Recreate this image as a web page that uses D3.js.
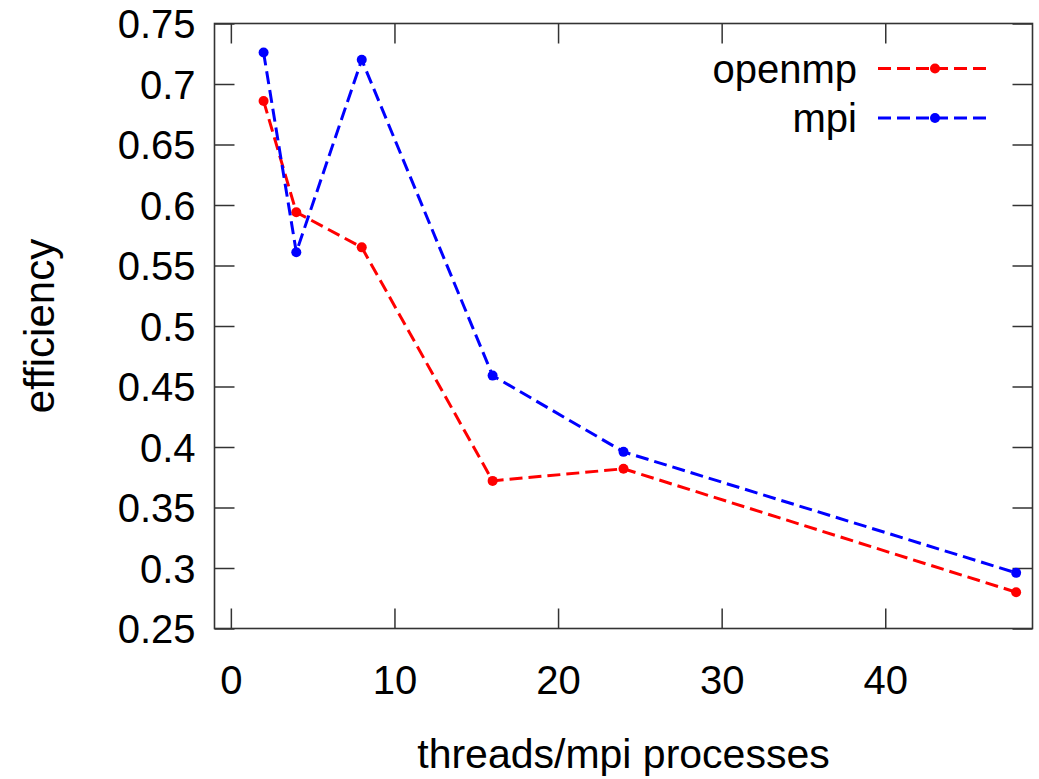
<!DOCTYPE html>
<html><head><meta charset="utf-8">
<script src="https://cdn.jsdelivr.net/npm/d3@7"></script>
<style>body{margin:0;background:#fff}svg{display:block}</style>
</head><body>
<svg id="chart" width="1039" height="779"></svg>
<script>
const threads = [2, 4, 8, 16, 24, 48];
const openmp = [0.686, 0.594, 0.565, 0.372, 0.382, 0.280];
const mpi = [0.726, 0.561, 0.720, 0.459, 0.396, 0.296];
const xTicks = [0, 10, 20, 30, 40];
const yTicks = [0.25, 0.3, 0.35, 0.4, 0.45, 0.5, 0.55, 0.6, 0.65, 0.7, 0.75];
const seriesNames = ["openmp", "mpi"];
const seriesColors = ["#ff0000", "#0000ff"];

const svg = d3.select("#chart");
const L = 214.5, R = 1032.5, T = 23.5, B = 628.5;
const x = d3.scaleLinear().domain([-1, 49]).range([L, R]);
const y = d3.scaleLinear().domain([0.25, 0.75]).range([B, T]);
const font = "'Liberation Sans', Arial, sans-serif";
const fs = 40;
const tickLen = 20;
const axisColor = "#333";

// inward ticks: left
svg.append("g").attr("transform", `translate(${L},0)`)
  .call(d3.axisLeft(y).tickValues(yTicks).tickSize(-tickLen).tickFormat(d3.format("")))
  .call(g => { g.select(".domain").remove(); g.selectAll("line").attr("stroke", axisColor).attr("stroke-width", 1.5);
    g.selectAll("text").attr("x", -19).attr("dy", "0.35em").attr("font-family", font).attr("font-size", fs).attr("fill", "#000"); });
// right mirror
svg.append("g").attr("transform", `translate(${R},0)`)
  .call(d3.axisRight(y).tickValues(yTicks).tickSize(-tickLen).tickFormat(""))
  .call(g => { g.select(".domain").remove(); g.selectAll("line").attr("stroke", axisColor).attr("stroke-width", 1.5); });
// bottom
svg.append("g").attr("transform", `translate(0,${B})`)
  .call(d3.axisBottom(x).tickValues(xTicks).tickSize(-tickLen))
  .call(g => { g.select(".domain").remove(); g.selectAll("line").attr("stroke", axisColor).attr("stroke-width", 1.5);
    g.selectAll("text").attr("y", 65.5).attr("dy", 0).attr("font-family", font).attr("font-size", fs).attr("fill", "#000"); });
// top mirror
svg.append("g").attr("transform", `translate(0,${T})`)
  .call(d3.axisTop(x).tickValues(xTicks).tickSize(-tickLen).tickFormat(""))
  .call(g => { g.select(".domain").remove(); g.selectAll("line").attr("stroke", axisColor).attr("stroke-width", 1.5); });

// frame
svg.append("rect").attr("x", L).attr("y", T).attr("width", R - L).attr("height", B - T)
  .attr("fill", "none").attr("stroke", axisColor).attr("stroke-width", 1.6);

const line = d3.line().x(d => x(d[0])).y(d => y(d[1]));
[openmp, mpi].forEach((vals, i) => {
  const pts = threads.map((t, j) => [t, vals[j]]);
  svg.append("path").datum(pts).attr("d", line).attr("fill", "none")
    .attr("stroke", seriesColors[i]).attr("stroke-width", 3).attr("stroke-dasharray", "13,6");
  svg.append("g").selectAll("circle").data(pts).join("circle")
    .attr("cx", d => x(d[0])).attr("cy", d => y(d[1])).attr("r", 5).attr("fill", seriesColors[i]);
});

// legend
seriesNames.forEach((name, i) => {
  const ly = 68.5 + i * 49.5;
  svg.append("text").attr("x", 857).attr("y", ly + 14).attr("text-anchor", "end")
    .attr("font-family", font).attr("font-size", fs).text(name);
  svg.append("line").attr("x1", 878).attr("x2", 990).attr("y1", ly).attr("y2", ly)
    .attr("stroke", seriesColors[i]).attr("stroke-width", 3).attr("stroke-dasharray", "13,6");
  svg.append("circle").attr("cx", 935).attr("cy", ly).attr("r", 5).attr("fill", seriesColors[i]);
});

// axis titles
svg.append("text").attr("x", 623.5).attr("y", 768).attr("text-anchor", "middle")
  .attr("font-family", font).attr("font-size", 41).text("threads/mpi processes");
svg.append("text").attr("transform", `translate(54,326) rotate(-90)`).attr("text-anchor", "middle")
  .attr("font-family", font).attr("font-size", 42).text("efficiency");
</script>
</body></html>
